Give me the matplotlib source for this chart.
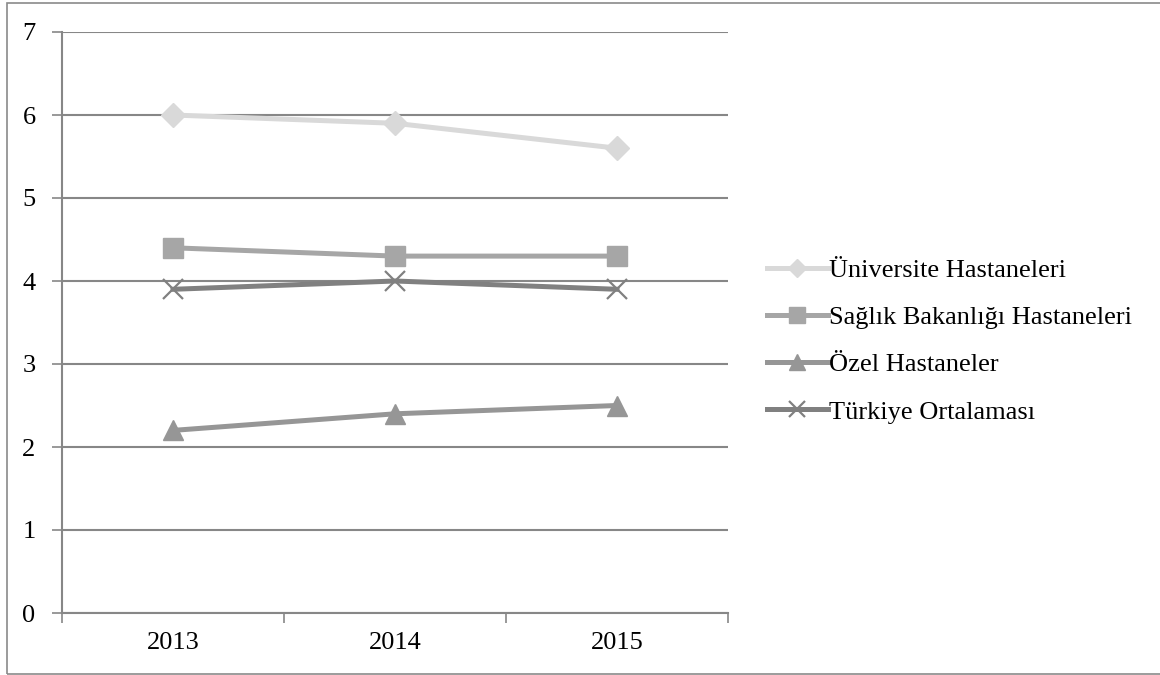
import matplotlib
matplotlib.use("Agg")
import matplotlib.pyplot as plt
from matplotlib.patches import Rectangle
from matplotlib.ticker import FixedLocator, NullFormatter

plt.rcParams['font.family'] = ['Liberation Serif', 'DejaVu Serif']

years = ["2013", "2014", "2015"]
series_names = ["Üniversite Hastaneleri", "Sağlık Bakanlığı Hastaneleri",
                "Özel Hastaneler", "Türkiye Ortalaması"]
universite = [6.0, 5.9, 5.6]
saglik = [4.4, 4.3, 4.3]
ozel = [2.2, 2.4, 2.5]
turkiye = [3.9, 4.0, 3.9]
y_ticks = [0, 1, 2, 3, 4, 5, 6, 7]

styles = [
    dict(color="#d9d9d9", marker="D", markersize=12, mfc="#d9d9d9", mec="#d9d9d9"),
    dict(color="#a6a6a6", marker="s", markersize=14, mfc="#a6a6a6", mec="#a6a6a6"),
    dict(color="#969696", marker="^", markersize=15, mfc="#969696", mec="#969696"),
    dict(color="#808080", marker="x", markersize=14, mfc="none", mec="#808080", mew=1.6),
]

fig = plt.figure(figsize=(11.6, 6.75), dpi=100)
ax = fig.add_axes([62 / 1160, 1 - 613 / 675, 666 / 1160, 581 / 675])

# outer chart frame
fig.patches.append(Rectangle((7 / 1160, 1 - 674 / 675), 1.2, 671 / 675,
                             transform=fig.transFigure, fill=False,
                             edgecolor="#8a8a8a", linewidth=1.2))

x = list(range(len(years)))
lines = []
for name, vals, st in zip(series_names, [universite, saglik, ozel, turkiye], styles):
    ln, = ax.plot(x, vals, linewidth=3.6, label=name, zorder=3, **st)
    lines.append(ln)

ax.set_xlim(-0.5, len(years) - 0.5)
ax.set_ylim(0, 7)
ax.set_yticks(y_ticks)
ax.set_yticklabels([str(v) for v in y_ticks], fontsize=19)
ax.set_xticks(x)
ax.set_xticklabels(years, fontsize=19)
ax.xaxis.set_minor_locator(FixedLocator([i - 0.5 for i in range(len(years) + 1)]))
ax.xaxis.set_minor_formatter(NullFormatter())
ax.tick_params(axis="x", which="major", length=0, pad=14)
ax.tick_params(axis="x", which="minor", length=7, width=1.2, color="#878787", direction="out")
ax.tick_params(axis="y", length=7, width=1.2, color="#878787", direction="out", pad=12)

ax.grid(axis="y", color="#878787", linewidth=1.5, zorder=1)
ax.set_axisbelow(True)
for side in ["top", "right"]:
    ax.spines[side].set_visible(False)
for side in ["left", "bottom"]:
    ax.spines[side].set_color("#878787")
    ax.spines[side].set_linewidth(1.5)

leg = fig.legend(handles=lines, loc="center left",
                 bbox_to_anchor=(767 / 1160, 1 - 341 / 675),
                 frameon=False, fontsize=19, handlelength=2.3,
                 handletextpad=0.05, labelspacing=0.9, borderaxespad=0,
                 borderpad=0, markerscale=0.78)

fig.savefig("out.png", dpi=100, facecolor="white")
